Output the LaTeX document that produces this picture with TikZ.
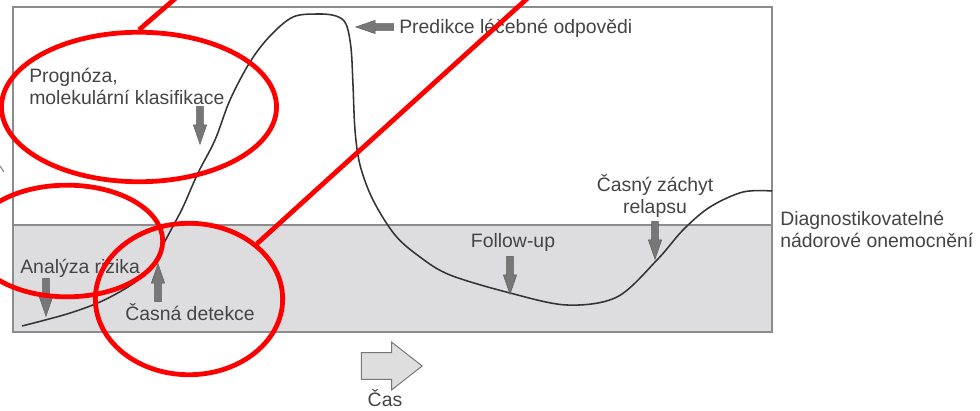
\documentclass[tikz,border=0pt]{standalone}
\usepackage{fontspec}
\setmainfont{Liberation Sans}
\usetikzlibrary{
  shapes.arrows,
  shapes.geometric
}
\definecolor{ink}{HTML}{444444}
\definecolor{curveink}{HTML}{333333}
\definecolor{framegray}{HTML}{8C8C8C}
\definecolor{bandfill}{HTML}{DDDDE0}
\definecolor{pointerfill}{HTML}{777777}
\definecolor{timefill}{HTML}{DEDEDE}
\definecolor{markred}{HTML}{FF0000}
\tikzset{
  font=\fontsize{13.8}{15.6}\selectfont,
  frame/.style={draw=framegray, line width=1.1pt},
  disease curve/.style={draw=curveink, line width=1.1pt},
  label text/.style={text=ink, inner sep=0pt, align=left},
  pointer/.style={
    single arrow,
    draw=pointerfill!75!black,
    fill=pointerfill,
    line width=0.3pt,
    inner sep=2.3pt,
    single arrow head extend=2.3pt,
    single arrow tip angle=38,
    minimum height=27pt
  },
  time arrow/.style={
    single arrow,
    draw=framegray!85!black,
    fill=timefill,
    line width=0.7pt,
    inner sep=9.2pt,
    single arrow head extend=7.4pt,
    single arrow tip angle=76,
    minimum height=43.2pt
  },
  ring/.style={ellipse, draw=markred, line width=3.4pt, inner sep=0pt},
  markline/.style={draw=markred, line width=3.4pt}
}

\begin{document}
\begin{tikzpicture}[x=0.025cm,y=-0.025cm]
  \useasboundingbox (0,0) rectangle (980,411);

  % Frame and grey band
  \fill[bandfill] (13,225) rectangle (772,332);
  \draw[frame] (13,225) -- (772,225);
  \draw[frame] (13,7) rectangle (772,332);
  \draw[framegray, line width=0.8pt] (0,166) -- (4,172);

  % Course of the disease
  \draw[disease curve] plot[smooth, tension=0.55] coordinates {
    (22,326) (67,314) (100,302) (128,287) (145,274) (155,261)
    (163,245) (172,228) (183,207) (198,173) (215,140) (230,100)
    (250,62) (270,36) (293,17) (318,14) (336,16) (346,24)
    (351,48) (353,85) (355,130) (360,165) (373,200) (395,235)
    (420,257) (450,275) (510,293) (567,305) (617,297) (657,260)
    (683,230) (710,207) (743,192) (772,191)
  };

  % Labels
  \node[label text, anchor=west] (prognosis) at (29,86) {Prognóza,\\molekulární klasifikace};
  \node[label text, anchor=west] (risk) at (20,268) {Analýza rizika};
  \node[label text, anchor=west] (detection) at (125,312) {Časná detekce};
  \node[label text, anchor=west] (response) at (399,28) {Predikce léčebné odpovědi};
  \node[label text, anchor=center] (followup) at (513,242) {Follow-up};
  \node[label text, align=center] (relapse) at (655,196) {Časný záchyt\\relapsu};
  \node[label text, anchor=west] (diagnosable) at (780,229) {Diagnostikovatelné\\nádorové onemocnění};
  \node[label text] (time) at (385,398) {Čas};

  % Pointers
  \node[pointer, shape border rotate=270, anchor=tip] (prognosisptr) at (200,145) {};
  \node[pointer, shape border rotate=270, anchor=tip] (riskptr) at (46,317) {};
  \node[pointer, shape border rotate=90, anchor=tip] (detectionptr) at (158,263) {};
  \node[pointer, shape border rotate=180, anchor=tip] (responseptr) at (355,27) {};
  \node[pointer, shape border rotate=270, anchor=tip] (followupptr) at (510,295) {};
  \node[pointer, shape border rotate=270, anchor=tip] (relapseptr) at (655,260) {};
  \node[time arrow, anchor=tip] (timeptr) at (423,366) {};

  % Red marks
  \node[ring, minimum width=195.6pt, minimum height=106.3pt] (ringprognosis) at (139,107) {};
  \node[ring, minimum width=136.1pt, minimum height=79.4pt] (ringrisk) at (67,241) {};
  \node[ring, minimum width=133.2pt, minimum height=107.7pt] (ringdetection) at (189,299) {};
  \coordinate (markend1) at (177,-3);
  \coordinate (markend2) at (530,-4);
  \draw[markline] (markend1) -- (ringprognosis.north);
  \draw[markline] (markend2) -- (ringdetection.north east);
\end{tikzpicture}
\end{document}
